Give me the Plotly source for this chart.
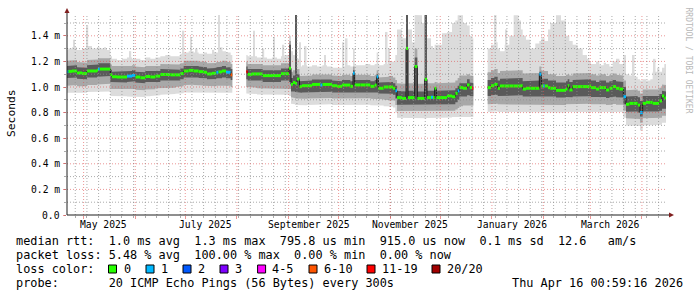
import plotly.graph_objects as go
from datetime import datetime, timedelta

START = datetime(2025, 4, 21, 0, 59, 16)
SPAN_DAYS = 360
END = START + timedelta(days=SPAN_DAYS)
Y_MAX = 1.5625

# ---------------- data (ms, days since START) ----------------
day = [0.0, 0.8, 3, 6, 9, 12, 15, 18, 18.6, 19.6, 21, 24, 26, 27, 30, 33, 36, 39, 41, 44,
       47, 50, 53, 56, 59, 62, 65, 68, 70, 73, 76, 79, 82, 84, 87, 89.6, 90.8, 93, 95.4, 98.2, 99.2,
       107.6, 108.4, 111, 114, 117.4, 120, 123, 126, 128.4, 131, 133.2, 134.4, 135.6, 136.8, 138, 139.5,
       141, 144, 147, 150, 152, 153.2, 156, 159, 162, 165, 168, 170, 171.6, 172.6, 176, 179, 182, 184.6,
       185.8, 186.8, 190, 193, 195.6, 197, 198, 201, 203.4, 204.6, 207, 208.6, 210.2, 213, 214.6, 216,
       218.4, 219.6, 220.6, 221.6, 225, 228, 231, 233, 234.4, 235.4, 237.6, 240, 241.6, 243, 243.8,
       252.4, 254.4, 256.4, 258.4, 259.8, 262.6, 265.4, 268, 271, 272.4, 273.4, 275.4, 278, 281, 283.4,
       284.6, 285.6, 286.6, 288.6, 290, 293.4, 296.4, 299.4, 300.4, 301.4, 303.4, 306.4, 309.4, 312, 313.4,
       314.4, 317.4, 319.4, 322, 323.4, 325.4, 327.4, 329.4, 331.4, 333.8, 335.4, 337.4, 340, 342.4, 343.8,
       345.4, 347.4, 350, 351.4, 354, 355.4, 357, 358.4, 359.4]

median = [1.120, 1.122, 1.125, 1.110, 1.105, 1.125, 1.125, 1.130, 1.140, 1.140, 1.140, 1.140, 1.095, 1.080, 1.078, 1.078, 1.085, 1.090, 1.078, 1.072,
          1.082, 1.078, 1.085, 1.098, 1.098, 1.095, 1.095, 1.105, 1.125, 1.130, 1.125, 1.120, 1.115, 1.102, 1.107, 1.115, 1.118, 1.125, 1.115, 1.095, None,
          1.120, 1.099, 1.102, 1.102, 1.089, 1.089, 1.089, 1.089, 1.104, 1.104, 1.146, 1.021, 1.036, 1.030, 1.062, 1.003,
          1.010, 1.010, 1.020, 1.020, 1.015, 1.020, 1.020, 1.010, 1.005, 1.015, 1.015, 1.005, 1.107, 1.016, 1.016, 1.016, 1.005, 1.015,
          1.080, 0.990, 1.000, 1.000, 0.990, 0.970, 0.917, 0.911, 1.300, 0.917, 0.917, 1.160, 0.911, 0.911, 1.060, 0.917,
          0.920, 0.917, 0.990, 0.917, 0.917, 0.930, 0.924, 0.950, 0.970, 0.995, 0.990, 1.016, 0.995, 0.990, None,
          0.995, 1.010, 1.020, 0.990, 1.008, 1.008, 1.008, 1.008, 1.008, 1.010, 0.984, 0.990, 0.990, 0.990, 1.100,
          1.008, 1.008, 1.008, 0.995, 0.990, 0.974, 0.974, 0.984, 1.010, 0.977, 1.003, 1.003, 1.003, 1.003, 1.008,
          0.995, 0.984, 0.995, 0.995, 0.977, 0.990, 1.003, 0.990, 0.984, 0.924, 0.865, 0.872, 0.872, 0.859, 0.800,
          0.872, 0.880, 0.880, 0.872, 0.872, 0.891, 0.930, 0.915, None]

# loss class index per sample (0 -> "0", 1 -> "1", ... 5 -> "6-10", 6 -> "11-19")
loss = [1, 0, 0, 0, 0, 0, 0, 0, 1, 0, 0, 0, 0, 0, 0, 0, 1, 1, 0, 0,
        0, 0, 0, 0, 0, 0, 0, 0, 0, 0, 0, 0, 0, 0, 0, 1, 0, 0, 1, 5, None,
        6, 0, 0, 0, 0, 0, 0, 0, 0, 0, 0, 0, 0, 0, 0, 0,
        0, 0, 0, 0, 1, 0, 0, 0, 0, 0, 0, 0, 1, 0, 0, 0, 0, 0,
        1, 0, 0, 0, 0, 1, 0, 0, 0, 0, 0, 0, 0, 0, 0, 0,
        1, 0, 0, 0, 0, 0, 0, 0, 1, 0, 0, 0, 0, 6, None,
        0, 0, 0, 0, 0, 0, 0, 0, 0, 0, 0, 0, 0, 0, 1,
        0, 1, 0, 0, 0, 0, 0, 0, 0, 0, 0, 0, 0, 0, 0,
        0, 0, 0, 0, 0, 0, 0, 0, 0, 1, 0, 0, 0, 0, 1,
        0, 0, 0, 0, 0, 0, 0, 0, None]

smoke_min = [0.955, 0.958, 0.960, 0.955, 0.955, 0.960, 0.962, 0.962, 0.965, 0.965, 0.965, 0.965, 0.930, 0.925, 0.925, 0.928, 0.925, 0.925, 0.920, 0.922,
             0.928, 0.930, 0.935, 0.940, 0.940, 0.945, 0.948, 0.952, 0.958, 0.960, 0.960, 0.960, 0.958, 0.955, 0.955, 0.958, 0.958, 0.960, 0.958, 0.955, None,
             0.950, 0.945, 0.945, 0.942, 0.940, 0.938, 0.938, 0.940, 0.940, 0.940, 0.930, 0.870, 0.865, 0.860, 0.860, 0.858,
             0.858, 0.860, 0.862, 0.862, 0.862, 0.865, 0.865, 0.860, 0.858, 0.862, 0.862, 0.860, 0.860, 0.862, 0.862, 0.862, 0.858, 0.860,
             0.860, 0.855, 0.850, 0.848, 0.840, 0.800, 0.760, 0.758, 0.758, 0.758, 0.758, 0.758, 0.756, 0.758, 0.756, 0.758,
             0.758, 0.758, 0.758, 0.758, 0.760, 0.762, 0.765, 0.768, 0.765, 0.765, 0.765, 0.768, 0.765, 0.765, None,
             0.805, 0.808, 0.810, 0.805, 0.805, 0.805, 0.805, 0.805, 0.805, 0.805, 0.800, 0.800, 0.800, 0.800, 0.800,
             0.800, 0.800, 0.800, 0.805, 0.805, 0.800, 0.800, 0.805, 0.805, 0.805, 0.810, 0.810, 0.810, 0.810, 0.810,
             0.808, 0.805, 0.808, 0.808, 0.805, 0.805, 0.810, 0.805, 0.805, 0.760, 0.700, 0.700, 0.700, 0.695, 0.660,
             0.700, 0.705, 0.705, 0.700, 0.700, 0.705, 0.720, 0.720, None]

smoke_lo = [1.010, 1.012, 1.015, 1.005, 1.005, 1.015, 1.015, 1.020, 1.025, 1.025, 1.025, 1.025, 0.985, 0.980, 0.980, 0.982, 0.982, 0.985, 0.978, 0.975,
            0.980, 0.982, 0.990, 0.995, 0.995, 0.995, 1.000, 1.005, 1.015, 1.018, 1.015, 1.012, 1.010, 1.005, 1.005, 1.010, 1.010, 1.015, 1.010, 1.000, None,
            1.000, 0.995, 0.995, 0.990, 0.985, 0.985, 0.985, 0.985, 0.990, 0.990, 0.985, 0.920, 0.915, 0.910, 0.910, 0.905,
            0.908, 0.910, 0.912, 0.912, 0.912, 0.915, 0.915, 0.910, 0.908, 0.912, 0.912, 0.908, 0.910, 0.912, 0.912, 0.912, 0.908, 0.910,
            0.910, 0.905, 0.900, 0.900, 0.895, 0.860, 0.812, 0.810, 0.810, 0.810, 0.810, 0.812, 0.810, 0.810, 0.810, 0.810,
            0.812, 0.810, 0.810, 0.810, 0.812, 0.815, 0.815, 0.825, 0.835, 0.850, 0.855, 0.860, 0.858, 0.856, None,
            0.865, 0.868, 0.870, 0.865, 0.865, 0.865, 0.865, 0.865, 0.865, 0.865, 0.860, 0.860, 0.860, 0.860, 0.860,
            0.862, 0.862, 0.862, 0.865, 0.865, 0.860, 0.860, 0.865, 0.865, 0.865, 0.868, 0.868, 0.868, 0.868, 0.870,
            0.866, 0.862, 0.866, 0.866, 0.860, 0.862, 0.868, 0.862, 0.862, 0.815, 0.755, 0.755, 0.755, 0.750, 0.720,
            0.755, 0.760, 0.760, 0.755, 0.755, 0.760, 0.775, 0.775, None]

smoke_clo = [1.070, 1.072, 1.075, 1.065, 1.060, 1.075, 1.075, 1.080, 1.085, 1.085, 1.085, 1.085, 1.040, 1.035, 1.035, 1.035, 1.040, 1.045, 1.035, 1.030,
             1.040, 1.035, 1.040, 1.050, 1.050, 1.050, 1.050, 1.060, 1.075, 1.078, 1.075, 1.070, 1.068, 1.060, 1.062, 1.068, 1.068, 1.075, 1.068, 1.055, None,
             1.060, 1.050, 1.050, 1.050, 1.040, 1.040, 1.040, 1.040, 1.050, 1.050, 1.040, 0.965, 0.965, 0.960, 0.960, 0.955,
             0.958, 0.958, 0.962, 0.962, 0.960, 0.962, 0.962, 0.958, 0.955, 0.960, 0.960, 0.955, 0.958, 0.960, 0.960, 0.960, 0.955, 0.958,
             0.958, 0.950, 0.950, 0.948, 0.940, 0.910, 0.862, 0.860, 0.860, 0.862, 0.862, 0.862, 0.860, 0.860, 0.860, 0.862,
             0.862, 0.862, 0.862, 0.862, 0.862, 0.865, 0.865, 0.880, 0.900, 0.925, 0.925, 0.935, 0.930, 0.928, None,
             0.930, 0.935, 0.940, 0.930, 0.935, 0.935, 0.935, 0.935, 0.935, 0.935, 0.925, 0.928, 0.928, 0.928, 0.930,
             0.930, 0.930, 0.930, 0.925, 0.925, 0.918, 0.918, 0.922, 0.925, 0.920, 0.925, 0.925, 0.925, 0.925, 0.928,
             0.922, 0.918, 0.922, 0.922, 0.915, 0.920, 0.925, 0.920, 0.918, 0.865, 0.807, 0.808, 0.808, 0.800, 0.770,
             0.808, 0.812, 0.812, 0.808, 0.808, 0.815, 0.830, 0.830, None]

smoke_chi = [1.165, 1.168, 1.170, 1.155, 1.150, 1.170, 1.170, 1.175, 1.185, 1.185, 1.185, 1.185, 1.135, 1.120, 1.120, 1.120, 1.125, 1.130, 1.120, 1.115,
             1.125, 1.120, 1.125, 1.140, 1.140, 1.135, 1.135, 1.145, 1.165, 1.170, 1.165, 1.160, 1.155, 1.145, 1.148, 1.155, 1.158, 1.165, 1.155, 1.140, None,
             1.160, 1.140, 1.145, 1.140, 1.130, 1.130, 1.130, 1.130, 1.145, 1.145, 1.330, 1.070, 1.090, 1.5625, 1.100, 1.045,
             1.050, 1.050, 1.058, 1.058, 1.055, 1.058, 1.058, 1.050, 1.045, 1.055, 1.055, 1.045, 1.130, 1.055, 1.055, 1.055, 1.045, 1.055,
             1.100, 1.035, 1.040, 1.040, 1.030, 1.010, 0.970, 0.965, 1.5625, 0.970, 0.970, 1.230, 0.965, 0.965, 1.5625, 0.970,
             0.972, 0.970, 1.000, 0.970, 0.970, 0.975, 0.975, 0.990, 1.010, 1.030, 1.030, 1.060, 1.035, 1.030, None,
             1.055, 1.070, 1.080, 1.050, 1.065, 1.065, 1.065, 1.065, 1.065, 1.070, 1.045, 1.050, 1.050, 1.050, 1.120,
             1.065, 1.065, 1.065, 1.050, 1.050, 1.035, 1.035, 1.045, 1.060, 1.040, 1.055, 1.055, 1.055, 1.055, 1.060,
             1.050, 1.040, 1.050, 1.050, 1.035, 1.045, 1.055, 1.045, 1.040, 1.000, 0.925, 0.930, 0.930, 0.920, 0.890,
             0.930, 0.935, 0.935, 0.930, 0.930, 0.945, 0.970, 0.965, None]

smoke_hi = [1.205, 1.208, 1.210, 1.195, 1.190, 1.210, 1.210, 1.215, 1.225, 1.225, 1.225, 1.225, 1.175, 1.165, 1.160, 1.160, 1.165, 1.170, 1.160, 1.155,
            1.165, 1.160, 1.165, 1.180, 1.180, 1.175, 1.175, 1.185, 1.205, 1.210, 1.205, 1.200, 1.195, 1.185, 1.188, 1.195, 1.198, 1.205, 1.195, 1.180, None,
            1.200, 1.180, 1.185, 1.180, 1.170, 1.170, 1.170, 1.170, 1.185, 1.185, 1.360, 1.120, 1.130, 1.5625, 1.140, 1.085,
            1.090, 1.090, 1.098, 1.098, 1.095, 1.098, 1.098, 1.090, 1.085, 1.095, 1.095, 1.085, 1.160, 1.095, 1.095, 1.095, 1.085, 1.095,
            1.130, 1.075, 1.080, 1.085, 1.075, 1.055, 1.030, 1.025, 1.5625, 1.030, 1.030, 1.300, 1.025, 1.025, 1.5625, 1.030,
            1.032, 1.030, 1.040, 1.030, 1.030, 1.035, 1.035, 1.050, 1.070, 1.090, 1.090, 1.100, 1.090, 1.085, None,
            1.115, 1.130, 1.140, 1.110, 1.125, 1.125, 1.125, 1.125, 1.125, 1.130, 1.105, 1.110, 1.110, 1.110, 1.160,
            1.125, 1.125, 1.125, 1.100, 1.100, 1.085, 1.085, 1.095, 1.100, 1.090, 1.105, 1.105, 1.105, 1.105, 1.110,
            1.100, 1.090, 1.100, 1.100, 1.085, 1.095, 1.105, 1.095, 1.090, 1.050, 0.975, 0.980, 0.980, 0.970, 0.950,
            0.980, 0.985, 0.985, 0.980, 0.980, 0.995, 1.020, 1.015, None]

smoke_max = [1.29, 1.30, 1.31, 1.29, 1.30, 1.32, 1.30, 1.31, 1.31, 1.30, 1.30, 1.29, 1.24, 1.22, 1.21, 1.22, 1.23, 1.22, 1.22, 1.21,
             1.23, 1.22, 1.23, 1.24, 1.25, 1.24, 1.24, 1.26, 1.27, 1.28, 1.27, 1.26, 1.27, 1.26, 1.27, 1.27, 1.27, 1.28, 1.27, 1.25, None,
             1.25, 1.24, 1.24, 1.23, 1.23, 1.22, 1.23, 1.22, 1.24, 1.25, 1.40, 1.28, 1.25, 1.5625, 1.22, 1.16,
             1.17, 1.16, 1.17, 1.16, 1.16, 1.17, 1.16, 1.15, 1.15, 1.16, 1.17, 1.16, 1.30, 1.17, 1.17, 1.18, 1.17, 1.18,
             1.27, 1.17, 1.18, 1.20, 1.20, 1.25, 1.45, 1.38, 1.5625, 1.45, 1.35, 1.5625, 1.56, 1.50, 1.5625, 1.38,
             1.32, 1.30, 1.33, 1.33, 1.42, 1.43, 1.50, 1.52, 1.56, 1.56, 1.50, 1.48, 1.40, 1.38, None,
             1.30, 1.33, 1.35, 1.30, 1.28, 1.33, 1.40, 1.56, 1.52, 1.45, 1.40, 1.37, 1.30, 1.34, 1.36,
             1.38, 1.38, 1.36, 1.45, 1.50, 1.56, 1.52, 1.40, 1.40, 1.36, 1.33, 1.30, 1.25, 1.22, 1.20,
             1.18, 1.20, 1.17, 1.19, 1.18, 1.16, 1.20, 1.22, 1.18, 1.25, 1.10, 1.09, 1.08, 1.06, 1.05,
             1.06, 1.05, 1.06, 1.12, 1.15, 1.12, 1.15, 1.18, None]

spike_day = [4.2, 12.2, 22.8, 38.0, 69.8, 74.4, 77.8, 87.8, 91.2, 92.8, 112.2, 117.8, 124.2, 129.8,
             139.8, 143.2, 154.8, 165.8, 167.8, 191.8, 193.2, 257.2, 263.6, 340.0, 352.6]
spike_top = [1.37, 1.48, 1.31, 1.28, 1.44, 1.39, 1.30, 1.29, 1.5625, 1.31, 1.44, 1.30, 1.39, 1.33,
             1.35, 1.32, 1.25, 1.35, 1.38, 1.43, 1.30, 1.5625, 1.45, 1.25, 1.22]

loss_labels = ['0', '1', '2', '3', '4-5', '6-10', '11-19', '20/20']
loss_colors = ['#26ff00', '#00b8ff', '#0059ff', '#7e00ff', '#ff00ff', '#ff5500', '#ff0000', '#a10000']

y_tick_vals = [0.0, 0.2, 0.4, 0.6, 0.8, 1.0, 1.2, 1.4]
y_tick_text = ['0.0', '0.2 m', '0.4 m', '0.6 m', '0.8 m', '1.0 m', '1.2 m', '1.4 m']
x_label_text = ['May 2025', 'July 2025', 'September 2025', 'November 2025', 'January 2026', 'March 2026']
x_label_month = [(2025, 5), (2025, 7), (2025, 9), (2025, 11), (2026, 1), (2026, 3)]

legend_rtt = 'median rtt:  1.0 ms avg  1.3 ms max  795.8 us min  915.0 us now  0.1 ms sd  12.6   am/s'
legend_loss = 'packet loss: 5.48 % avg  100.00 % max  0.00 % min  0.00 % now'
legend_probe = 'probe:       20 ICMP Echo Pings (56 Bytes) every 300s'
legend_date = 'Thu Apr 16 00:59:16 2026'

# ---------------- layout helpers ----------------
W, H = 697, 297
PL, PT, PW, PH = 67, 15, 600, 200
MONO = 'DejaVu Sans Mono'


def T(d):
    return (START + timedelta(days=d)).strftime('%Y-%m-%d %H:%M:%S')


def TD(dt):
    return dt.strftime('%Y-%m-%d %H:%M:%S')


def px(x):
    return (x - PL) / PW


def py(y):
    return (PT + PH - y) / PH


def nb(s):
    return s.replace(' ', '\u00a0')


# contiguous runs of valid samples
runs, cur = [], []
for i in range(len(day)):
    if median[i] is None:
        if cur:
            runs.append(cur)
        cur = []
    else:
        cur.append(i)
if cur:
    runs.append(cur)


def band(lo_arr, hi_arr):
    xs, ys = [], []
    for run in runs:
        up, dn = [], []
        for i in run:
            d0, d1 = day[i], day[i + 1]
            up += [(d0, hi_arr[i]), (d1, hi_arr[i])]
            dn += [(d0, lo_arr[i]), (d1, lo_arr[i])]
        pts = up + dn[::-1]
        xs += [T(p[0]) for p in pts] + [None]
        ys += [p[1] for p in pts] + [None]
    return xs, ys


fig = go.Figure()

# outer smoke
xs, ys = band(smoke_min, smoke_max)
fig.add_trace(go.Scatter(x=xs, y=ys, fill='toself', fillcolor='#dcdcdc', mode='lines',
                         line=dict(width=0), hoverinfo='skip'))

# thin light spikes
sp_base = []
for d in spike_day:
    b = None
    for i in range(len(day) - 1):
        if day[i] <= d < day[i + 1] and median[i] is not None:
            b = median[i]
    sp_base.append(b if b is not None else 1.0)
fig.add_trace(go.Bar(x=[T(d) for d in spike_day], y=[t - b for t, b in zip(spike_top, sp_base)],
                     base=sp_base, width=[86400000 * 1.0] * len(spike_day),
                     marker=dict(color='#dcdcdc', line=dict(width=0)), hoverinfo='skip'))

xs, ys = band(smoke_lo, smoke_hi)
fig.add_trace(go.Scatter(x=xs, y=ys, fill='toself', fillcolor='#a8a8a8', mode='lines',
                         line=dict(width=0), hoverinfo='skip'))
xs, ys = band(smoke_clo, smoke_chi)
fig.add_trace(go.Scatter(x=xs, y=ys, fill='toself', fillcolor='#5a5a5a', mode='lines',
                         line=dict(width=0), hoverinfo='skip'))

# median: dark connector
fig.add_trace(go.Scatter(x=[T(d) for d in day], y=median, mode='lines', line_shape='hv',
                         line=dict(color='#1a1a1a', width=1), connectgaps=False, hoverinfo='skip'))

# median: loss coloured steps
for c_idx, col in enumerate(loss_colors):
    sx, sy = [], []
    for i in range(len(day) - 1):
        if median[i] is None or loss[i] != c_idx:
            continue
        sx += [T(day[i]), T(day[i + 1]), None]
        sy += [median[i], median[i], None]
    if sx:
        fig.add_trace(go.Scatter(x=sx, y=sy, mode='lines', line=dict(color=col, width=3),
                                 hoverinfo='skip'))

shapes = []
GRID = 'rgba(143,143,143,0.75)'
MGRID = 'rgba(222,79,79,0.6)'
DASH = '1px,2px'
# weekly minor grid
wk = datetime(2025, 4, 26)
while wk < END:
    shapes.append(dict(type='line', xref='x', yref='paper', x0=TD(wk), x1=TD(wk), y0=0, y1=1.0,
                       line=dict(color=GRID, width=1, dash=DASH), layer='above'))
    wk += timedelta(days=7)
# monthly major grid
month_starts = []
y_, m_ = 2025, 5
while datetime(y_, m_, 1) < END:
    month_starts.append(datetime(y_, m_, 1))
    m_ += 1
    if m_ > 12:
        m_, y_ = 1, y_ + 1
for ms in month_starts:
    shapes.append(dict(type='line', xref='x', yref='paper', x0=TD(ms), x1=TD(ms), y0=0, y1=1.0,
                       line=dict(color=MGRID, width=1, dash=DASH), layer='above'))
# horizontal grid
for k in range(1, 16):
    v = k / 10
    col = MGRID if k % 2 == 0 else GRID
    shapes.append(dict(type='line', xref='paper', yref='y', x0=0, x1=1, y0=v, y1=v,
                       line=dict(color=col, width=1, dash=DASH), layer='above'))

AX = '#1f1f1f'
ARROW = '#801f1f'
shapes.append(dict(type='line', xref='paper', yref='paper', x0=px(67), x1=px(669), y0=py(215), y1=py(215),
                   line=dict(color=AX, width=1), layer='above'))
shapes.append(dict(type='line', xref='paper', yref='paper', x0=px(67), x1=px(67), y0=py(215), y1=py(13),
                   line=dict(color=AX, width=1), layer='above'))
shapes.append(dict(type='path', xref='paper', yref='paper',
                   path=f'M {px(669)},{py(212.5)} L {px(674)},{py(215)} L {px(669)},{py(217.5)} Z',
                   fillcolor=ARROW, line=dict(width=0), layer='above'))
shapes.append(dict(type='path', xref='paper', yref='paper',
                   path=f'M {px(64.5)},{py(13)} L {px(67)},{py(8)} L {px(69.5)},{py(13)} Z',
                   fillcolor=ARROW, line=dict(width=0), layer='above'))

annotations = []
# y tick labels
for v, t in zip(y_tick_vals, y_tick_text):
    annotations.append(dict(x=px(61.5), y=v, xref='paper', yref='y', text=nb(t), showarrow=False,
                            xanchor='right', yanchor='middle', font=dict(family=MONO, size=9.7, color='black')))
# x tick labels
for (yy, mm), t in zip(x_label_month, x_label_text):
    annotations.append(dict(x=TD(datetime(yy, mm, 1) + timedelta(days=12)), y=py(224.5), xref='x', yref='paper',
                            text=nb(t), showarrow=False, xanchor='center', yanchor='middle',
                            font=dict(family=MONO, size=9.7, color='black')))
# axis title
annotations.append(dict(x=px(11), y=py(113), xref='paper', yref='paper', text='Seconds', textangle=-90,
                        showarrow=False, xanchor='center', yanchor='middle',
                        font=dict(family=MONO, size=11.3, color='black')))
# watermark
annotations.append(dict(x=px(687.5), y=py(60), xref='paper', yref='paper', text=nb('RRDTOOL / TOBI OETIKER'),
                        textangle=90, showarrow=False, xanchor='center', yanchor='middle',
                        font=dict(family=MONO, size=8, color='#b8b8b8')))
LF = 11.85
for txt, yy in [(legend_rtt, 241), (legend_loss, 255), ('loss color:', 269), (legend_probe, 283)]:
    annotations.append(dict(x=px(14), y=py(yy), xref='paper', yref='paper', text=nb(txt), showarrow=False,
                            xanchor='left', yanchor='middle', font=dict(family=MONO, size=LF, color='black')))
annotations.append(dict(x=px(685), y=py(283), xref='paper', yref='paper', text=nb(legend_date), showarrow=False,
                        xanchor='right', yanchor='middle', font=dict(family=MONO, size=LF, color='black')))
box_x = [108.5, 146, 183, 220, 257.6, 309, 367, 432]
lab_x = [124, 160.7, 198, 235, 272, 323.7, 381.7, 447.3]
for bx, lx, lab, col in zip(box_x, lab_x, loss_labels, loss_colors):
    shapes.append(dict(type='rect', xref='paper', yref='paper', x0=px(bx), x1=px(bx + 8), y0=py(273), y1=py(265),
                       fillcolor=col, line=dict(color='black', width=1), layer='above'))
    annotations.append(dict(x=px(lx - 2), y=py(269), xref='paper', yref='paper', text=nb(lab), showarrow=False,
                            xanchor='left', yanchor='middle', font=dict(family=MONO, size=LF, color='black')))

fig.update_layout(
    width=W, height=H,
    margin=dict(l=PL, r=W - PL - PW, t=PT, b=H - PT - PH, pad=0),
    paper_bgcolor='white', plot_bgcolor='white',
    showlegend=False, barmode='overlay',
    shapes=shapes, annotations=annotations,
    xaxis=dict(type='date', range=[TD(START), TD(END)], showgrid=False, zeroline=False, showline=False,
               tickmode='array', tickvals=[TD(m) for m in month_starts], showticklabels=False,
               ticks='outside', ticklen=3, tickcolor=MGRID, tickwidth=1,
               minor=dict(ticks='outside', ticklen=2, tickcolor=GRID, dtick=7 * 86400000,
                          tick0='2025-04-26', showgrid=False)),
    yaxis=dict(range=[0, Y_MAX], showgrid=False, zeroline=False, showline=False,
               tickmode='array', tickvals=y_tick_vals, showticklabels=False,
               ticks='outside', ticklen=3, tickcolor=MGRID, tickwidth=1,
               minor=dict(ticks='outside', ticklen=2, tickcolor=GRID, dtick=0.1, showgrid=False)),
)

fig.write_html('out.html')
